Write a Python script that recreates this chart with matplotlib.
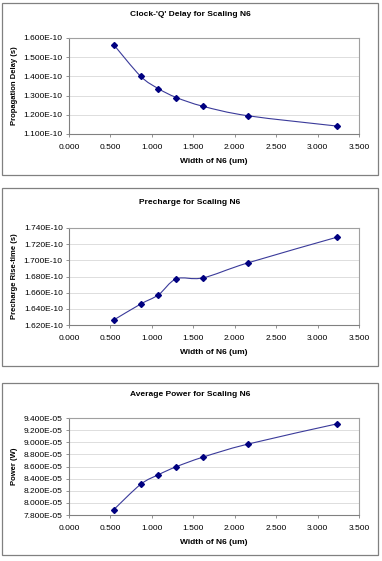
import matplotlib
matplotlib.use("Agg")
import matplotlib.pyplot as plt
from matplotlib.patches import Rectangle, PathPatch
from matplotlib.path import Path
from matplotlib.ticker import FormatStrFormatter, FuncFormatter

plt.rcParams['font.family'] = ['Liberation Sans', 'DejaVu Sans']

W, H = 382, 561

width_n6 = [0.54, 0.864, 1.08, 1.296, 1.62, 2.16, 3.24]
delay = [1.565e-10, 1.401e-10, 1.336e-10, 1.290e-10, 1.244e-10, 1.195e-10, 1.141e-10]
rise = [1.6262e-10, 1.6459e-10, 1.6574e-10, 1.6771e-10, 1.6784e-10, 1.6969e-10, 1.7288e-10]
power = [7.888e-05, 8.305e-05, 8.465e-05, 8.597e-05, 8.756e-05, 8.970e-05, 9.305e-05]

titles = ["Clock-'Q' Delay for Scaling N6", "Precharge for Scaling N6", "Average Power for Scaling N6"]
ylabels = ["Propagation Delay (s)", "Precharge Rise-time (s)", "Power (W)"]
xlabel = "Width of N6 (um)"
yticks = [
    [1.1e-10, 1.2e-10, 1.3e-10, 1.4e-10, 1.5e-10, 1.6e-10],
    [1.62e-10, 1.64e-10, 1.66e-10, 1.68e-10, 1.70e-10, 1.72e-10, 1.74e-10],
    [7.8e-05, 8.0e-05, 8.2e-05, 8.4e-05, 8.6e-05, 8.8e-05, 9.0e-05, 9.2e-05, 9.4e-05],
]
xticks = [0.0, 0.5, 1.0, 1.5, 2.0, 2.5, 3.0, 3.5]

# pixel boxes: frame (x0, y0, x1, y1), plot area (x0, y0, x1, y1), title y
panels = [
    ((2, 3, 378, 175), (69, 38, 359, 134), 14),
    ((2, 188, 378, 366), (69, 228, 359, 325), 203),
    ((2, 383, 378, 555), (69, 418, 359, 515), 394),
]

fig = plt.figure(figsize=(W / 100, H / 100), dpi=100)


def smooth_path(xs, ys):
    # bezier through the points, like Excel's smoothed line
    verts = [(xs[0], ys[0])]
    codes = [Path.MOVETO]
    n = len(xs)
    for i in range(n - 1):
        x0, y0 = xs[max(i - 1, 0)], ys[max(i - 1, 0)]
        x1, y1 = xs[i], ys[i]
        x2, y2 = xs[i + 1], ys[i + 1]
        x3, y3 = xs[min(i + 2, n - 1)], ys[min(i + 2, n - 1)]
        t = 1 / 6
        verts += [(x1 + (x2 - x0) * t, y1 + (y2 - y0) * t),
                  (x2 - (x3 - x1) * t, y2 - (y3 - y1) * t),
                  (x2, y2)]
        codes += [Path.CURVE4] * 3
    return Path(verts, codes)


def sci(v, pos):
    m, e = ("%.3E" % v).split("E")
    return "%sE%s%s" % (m, e[0], e[1:].lstrip("0").zfill(2))


for k, data in enumerate([delay, rise, power]):
    frame, area, ty = panels[k]
    fig.add_artist(Rectangle((frame[0] / W, 1 - frame[3] / H),
                             (frame[2] - frame[0]) / W, (frame[3] - frame[1]) / H,
                             transform=fig.transFigure, fill=False,
                             edgecolor='#808080', lw=0.9))
    ax = fig.add_axes([area[0] / W, 1 - area[3] / H,
                       (area[2] - area[0]) / W, (area[3] - area[1]) / H])
    yt = yticks[k]
    ax.set_xlim(0, 3.5)
    ax.set_ylim(yt[0], yt[-1])
    ax.set_xticks(xticks)
    ax.set_yticks(yt)
    ax.xaxis.set_major_formatter(FormatStrFormatter('%.3f'))
    ax.yaxis.set_major_formatter(FuncFormatter(sci))
    ax.yaxis.get_offset_text().set_visible(False)
    ax.grid(axis='y', color='#d8d8d8', lw=0.6)
    ax.set_axisbelow(True)
    for s in ax.spines.values():
        s.set_color('#a0a0a0')
        s.set_linewidth(0.8)
    ax.spines['left'].set_color('#808080')
    ax.spines['bottom'].set_color('#808080')
    ax.tick_params(labelsize=6, length=2.5, width=0.6, color='#808080', pad=2)
    ax.tick_params(axis='x', pad=5)
    ax.add_patch(PathPatch(smooth_path(width_n6, data), fill=False,
                           edgecolor='#3a3a9a', lw=0.8))
    ax.plot(width_n6, data, ls='none', marker='D', ms=3, color='#000080')
    ax.set_xlabel(xlabel, fontsize=6, fontweight='bold', labelpad=5)
    ax.set_ylabel(ylabels[k], fontsize=5.5, fontweight='bold', labelpad=4)
    fig.text((frame[0] + frame[2]) / 2 / W, 1 - ty / H, titles[k],
             ha='center', va='center', fontsize=6, fontweight='bold')

fig.savefig('out.png', dpi=100)
